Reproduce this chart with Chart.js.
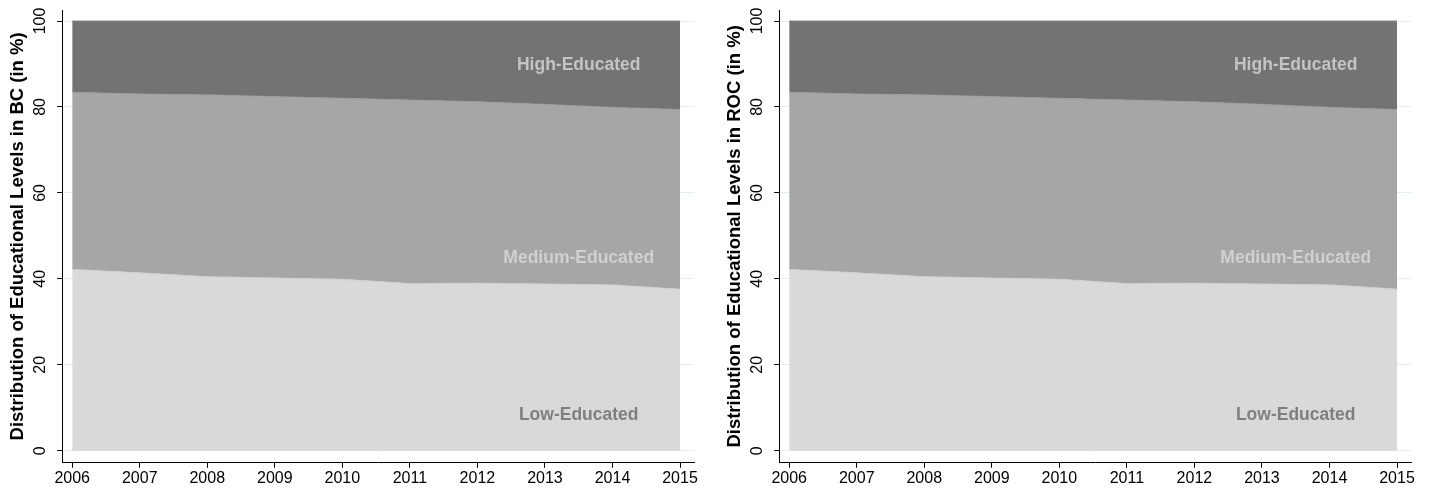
<!DOCTYPE html>
<html>
<head>
<meta charset="utf-8">
<script src="https://cdn.jsdelivr.net/npm/chart.js@4.4.1/dist/chart.umd.min.js"></script>
<style>
  html, body { margin: 0; padding: 0; background: #fff; }
  .row { display: flex; width: 1434px; height: 491px; }
  .box { position: relative; width: 717px; height: 491px; }
</style>
</head>
<body>
<div class="row">
  <div class="box"><canvas id="bcChart"></canvas></div>
  <div class="box"><canvas id="rocChart"></canvas></div>
</div>
<script>
// data (shares in %)
const years = [2006, 2007, 2008, 2009, 2010, 2011, 2012, 2013, 2014, 2015];
const yTicks = [0, 20, 40, 60, 80, 100];

const bcLow    = [42.2, 41.4, 40.5, 40.2, 39.9, 38.9, 39.0, 38.8, 38.6, 37.6];
const bcMedium = [41.2, 41.6, 42.3, 42.2, 42.1, 42.7, 42.2, 41.8, 41.3, 41.8];
const bcHigh   = [16.6, 17.0, 17.2, 17.6, 18.0, 18.4, 18.8, 19.4, 20.1, 20.6];

const rocLow    = [42.2, 41.4, 40.5, 40.2, 39.9, 38.9, 39.0, 38.8, 38.6, 37.6];
const rocMedium = [41.2, 41.6, 42.3, 42.2, 42.1, 42.7, 42.2, 41.8, 41.3, 41.8];
const rocHigh   = [16.6, 17.0, 17.2, 17.6, 18.0, 18.4, 18.8, 19.4, 20.1, 20.6];

const groupNames = ['Low-Educated', 'Medium-Educated', 'High-Educated'];

const FONT = "'Liberation Sans', Arial, Helvetica, sans-serif";

// area labels inside the plot, placed in data coordinates
const areaLabels = [
    { text: 'Low-Educated',    x: 2013.5, y: 8.3,  color: '#7f7f7f' },
    { text: 'Medium-Educated', x: 2013.5, y: 44.7, color: '#d0d0d0' },
    { text: 'High-Educated',   x: 2013.5, y: 89.8, color: '#c4c4c4' }
];

const extrasPlugin = {
    id: 'extras',
    afterDatasetsDraw(chart) {
        const ctx = chart.ctx;
        const xs = chart.scales.x, ys = chart.scales.y;
        ctx.save();
        ctx.font = 'bold 17.5px ' + FONT;
        ctx.textAlign = 'center';
        ctx.textBaseline = 'middle';
        areaLabels.forEach(l => {
            ctx.fillStyle = l.color;
            ctx.fillText(l.text, xs.getPixelForValue(l.x), ys.getPixelForValue(l.y));
        });
        ctx.restore();
    },
    afterDraw(chart) {
        // rotated y tick labels
        const ctx = chart.ctx;
        const ys = chart.scales.y;
        ctx.save();
        ctx.font = '16px ' + FONT;
        ctx.fillStyle = '#000';
        ctx.textAlign = 'center';
        ctx.textBaseline = 'middle';
        yTicks.forEach(v => {
            ctx.save();
            ctx.translate(ys.right - 22, ys.getPixelForValue(v));
            ctx.rotate(-Math.PI / 2);
            ctx.fillText(String(v), 0, 0);
            ctx.restore();
        });
        ctx.restore();
    }
};

function makeChart(id, low, medium, high, title) {
    const series = [low, medium, high];
    const fills = ['#d9d9d9', '#a6a6a6', '#737373'];
    const borders = ['#cfcfcf', '#9c9c9c', '#8a8a8a'];
    return new Chart(document.getElementById(id), {
        type: 'line',
        data: {
            datasets: series.map((s, i) => ({
                label: groupNames[i],
                data: s.map((v, j) => ({ x: years[j], y: v })),
                backgroundColor: fills[i],
                borderColor: borders[i],
                borderWidth: 1,
                pointRadius: 0,
                tension: 0,
                fill: i === 0 ? 'origin' : '-1'
            }))
        },
        options: {
            responsive: true,
            maintainAspectRatio: false,
            animation: false,
            layout: { padding: { left: 0, right: 23, top: 10, bottom: 2 } },
            plugins: {
                legend: { display: false },
                tooltip: { enabled: false }
            },
            scales: {
                x: {
                    type: 'linear',
                    min: 2005.852,
                    max: 2015.207,
                    afterBuildTicks: axis => { axis.ticks = years.map(v => ({ value: v })); },
                    grid: { drawOnChartArea: false, drawTicks: true, tickLength: 5, color: '#000', tickColor: '#000' },
                    border: { display: true, color: '#000', width: 1 },
                    ticks: {
                        font: { family: FONT, size: 16 },
                        color: '#000',
                        padding: 1,
                        maxRotation: 0,
                        autoSkip: false,
                        callback: v => String(v)
                    }
                },
                y: {
                    type: 'linear',
                    stacked: true,
                    min: -2.8,
                    max: 102.56,
                    afterBuildTicks: axis => { axis.ticks = yTicks.map(v => ({ value: v })); },
                    grid: { color: '#e6eef1', lineWidth: 1, drawTicks: true, tickLength: 5, tickColor: '#000' },
                    border: { display: true, color: '#000', width: 1 },
                    ticks: { display: false },
                    title: {
                        display: true,
                        text: title,
                        font: { family: FONT, size: 18.5, weight: 'bold' },
                        color: '#000',
                        padding: { top: 7, bottom: 28 }
                    }
                }
            }
        },
        plugins: [extrasPlugin]
    });
}

makeChart('bcChart', bcLow, bcMedium, bcHigh, 'Distribution of Educational Levels in BC (in %)');
makeChart('rocChart', rocLow, rocMedium, rocHigh, 'Distribution of Educational Levels in ROC (in %)');
</script>
</body>
</html>
